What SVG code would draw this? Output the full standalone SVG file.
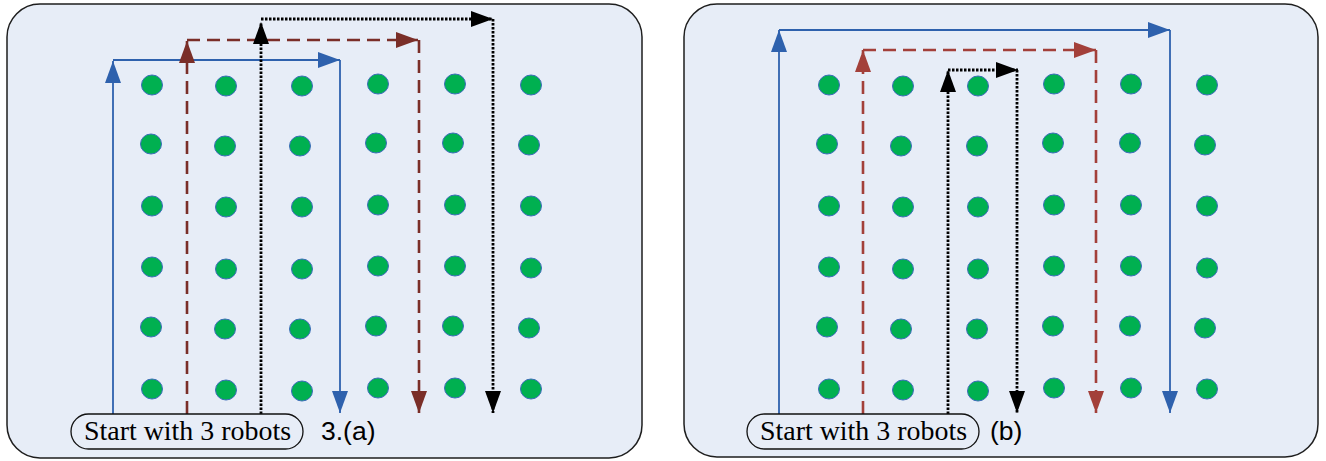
<svg xmlns="http://www.w3.org/2000/svg" xmlns:xlink="http://www.w3.org/1999/xlink" width="1326" height="461" viewBox="0 0 1326 461">
<style>
.panel{fill:#e7edf7;stroke:#1e1e1e;stroke-width:1.5}
.dot{fill:#00b050;stroke:#3a6cb8;stroke-width:1}
.blue{fill:none;stroke:#2e61ad;stroke-width:1.8}
.redA{fill:none;stroke:#7a2e28;stroke-width:2.6;stroke-dasharray:13,7}
.redB{fill:none;stroke:#a3403a;stroke-width:2.6;stroke-dasharray:13,7}
.blk{fill:none;stroke:#000;stroke-width:2.8;stroke-dasharray:2.5,1.5}
.pill{fill:#e7edf7;stroke:#111;stroke-width:1.3}
.lbl{font-family:"Liberation Serif",serif;font-size:27px;fill:#000}
.cap{font-family:"Liberation Sans",Arial,sans-serif;font-size:26.5px;fill:#000}
</style>
<defs>
<marker id="mBlue" markerUnits="userSpaceOnUse" markerWidth="23" markerHeight="16" refX="22" refY="8" orient="auto"><path d="M0,0 L22,8 L0,16 z" fill="#2e61ad"/></marker>
<marker id="mRedA" markerUnits="userSpaceOnUse" markerWidth="23" markerHeight="16" refX="22" refY="8" orient="auto"><path d="M0,0 L22,8 L0,16 z" fill="#7a2e28"/></marker>
<marker id="mRedB" markerUnits="userSpaceOnUse" markerWidth="23" markerHeight="16" refX="22" refY="8" orient="auto"><path d="M0,0 L22,8 L0,16 z" fill="#a3403a"/></marker>
<marker id="mBlk" markerUnits="userSpaceOnUse" markerWidth="23" markerHeight="16" refX="22" refY="8" orient="auto"><path d="M0,0 L22,8 L0,16 z" fill="#000"/></marker>
</defs>

<g id="panelA">
<rect class="panel" x="7" y="4" width="635" height="454" rx="33" ry="33"/>
</g>
<g id="panelB">
<rect class="panel" x="684" y="4" width="634" height="453" rx="33" ry="33"/>
</g>

<g id="dotsA">
<ellipse class="dot" cx="152" cy="85" rx="10.5" ry="10"/><ellipse class="dot" cx="226" cy="86" rx="10.5" ry="10"/><ellipse class="dot" cx="302" cy="86" rx="10.5" ry="10"/><ellipse class="dot" cx="378" cy="84" rx="10.5" ry="10"/><ellipse class="dot" cx="455" cy="84" rx="10.5" ry="10"/><ellipse class="dot" cx="531" cy="85" rx="10.5" ry="10"/>
<ellipse class="dot" cx="151" cy="144" rx="10.5" ry="10"/><ellipse class="dot" cx="225" cy="146" rx="10.5" ry="10"/><ellipse class="dot" cx="300" cy="146" rx="10.5" ry="10"/><ellipse class="dot" cx="376" cy="143" rx="10.5" ry="10"/><ellipse class="dot" cx="453" cy="143" rx="10.5" ry="10"/><ellipse class="dot" cx="529" cy="145" rx="10.5" ry="10"/>
<ellipse class="dot" cx="152" cy="206" rx="10.5" ry="10"/><ellipse class="dot" cx="226" cy="207" rx="10.5" ry="10"/><ellipse class="dot" cx="302" cy="207" rx="10.5" ry="10"/><ellipse class="dot" cx="378" cy="205" rx="10.5" ry="10"/><ellipse class="dot" cx="455" cy="205" rx="10.5" ry="10"/><ellipse class="dot" cx="531" cy="206" rx="10.5" ry="10"/>
<ellipse class="dot" cx="152" cy="267" rx="10.5" ry="10"/><ellipse class="dot" cx="226" cy="269" rx="10.5" ry="10"/><ellipse class="dot" cx="302" cy="269" rx="10.5" ry="10"/><ellipse class="dot" cx="378" cy="266" rx="10.5" ry="10"/><ellipse class="dot" cx="455" cy="266" rx="10.5" ry="10"/><ellipse class="dot" cx="531" cy="268" rx="10.5" ry="10"/>
<ellipse class="dot" cx="151" cy="327" rx="10.5" ry="10"/><ellipse class="dot" cx="225" cy="329" rx="10.5" ry="10"/><ellipse class="dot" cx="300" cy="329" rx="10.5" ry="10"/><ellipse class="dot" cx="376" cy="326" rx="10.5" ry="10"/><ellipse class="dot" cx="453" cy="326" rx="10.5" ry="10"/><ellipse class="dot" cx="529" cy="328" rx="10.5" ry="10"/>
<ellipse class="dot" cx="152" cy="389" rx="10.5" ry="10"/><ellipse class="dot" cx="226" cy="390" rx="10.5" ry="10"/><ellipse class="dot" cx="302" cy="391" rx="10.5" ry="10"/><ellipse class="dot" cx="378" cy="388" rx="10.5" ry="10"/><ellipse class="dot" cx="455" cy="388" rx="10.5" ry="10"/><ellipse class="dot" cx="531" cy="389" rx="10.5" ry="10"/>
</g>
<g id="dotsB">
<ellipse class="dot" cx="829" cy="85" rx="10.5" ry="10"/><ellipse class="dot" cx="903" cy="86" rx="10.5" ry="10"/><ellipse class="dot" cx="978" cy="86" rx="10.5" ry="10"/><ellipse class="dot" cx="1054" cy="84" rx="10.5" ry="10"/><ellipse class="dot" cx="1131" cy="84" rx="10.5" ry="10"/><ellipse class="dot" cx="1207" cy="85" rx="10.5" ry="10"/>
<ellipse class="dot" cx="827" cy="144" rx="10.5" ry="10"/><ellipse class="dot" cx="901" cy="146" rx="10.5" ry="10"/><ellipse class="dot" cx="977" cy="146" rx="10.5" ry="10"/><ellipse class="dot" cx="1053" cy="143" rx="10.5" ry="10"/><ellipse class="dot" cx="1130" cy="143" rx="10.5" ry="10"/><ellipse class="dot" cx="1205" cy="145" rx="10.5" ry="10"/>
<ellipse class="dot" cx="829" cy="206" rx="10.5" ry="10"/><ellipse class="dot" cx="903" cy="207" rx="10.5" ry="10"/><ellipse class="dot" cx="978" cy="207" rx="10.5" ry="10"/><ellipse class="dot" cx="1054" cy="205" rx="10.5" ry="10"/><ellipse class="dot" cx="1131" cy="205" rx="10.5" ry="10"/><ellipse class="dot" cx="1207" cy="206" rx="10.5" ry="10"/>
<ellipse class="dot" cx="829" cy="267" rx="10.5" ry="10"/><ellipse class="dot" cx="903" cy="269" rx="10.5" ry="10"/><ellipse class="dot" cx="978" cy="269" rx="10.5" ry="10"/><ellipse class="dot" cx="1054" cy="266" rx="10.5" ry="10"/><ellipse class="dot" cx="1131" cy="266" rx="10.5" ry="10"/><ellipse class="dot" cx="1207" cy="268" rx="10.5" ry="10"/>
<ellipse class="dot" cx="827" cy="327" rx="10.5" ry="10"/><ellipse class="dot" cx="901" cy="329" rx="10.5" ry="10"/><ellipse class="dot" cx="977" cy="329" rx="10.5" ry="10"/><ellipse class="dot" cx="1053" cy="326" rx="10.5" ry="10"/><ellipse class="dot" cx="1130" cy="326" rx="10.5" ry="10"/><ellipse class="dot" cx="1205" cy="328" rx="10.5" ry="10"/>
<ellipse class="dot" cx="829" cy="389" rx="10.5" ry="10"/><ellipse class="dot" cx="903" cy="390" rx="10.5" ry="10"/><ellipse class="dot" cx="978" cy="391" rx="10.5" ry="10"/><ellipse class="dot" cx="1054" cy="388" rx="10.5" ry="10"/><ellipse class="dot" cx="1131" cy="388" rx="10.5" ry="10"/><ellipse class="dot" cx="1207" cy="389" rx="10.5" ry="10"/>
</g>

<g id="connectors">
<!-- panel a -->
<path class="blue" d="M113,414 V61" marker-end="url(#mBlue)"/>
<path class="blue" d="M113,60 H340" marker-end="url(#mBlue)"/>
<path class="blue" d="M340,60 V413" marker-end="url(#mBlue)"/>
<path class="redA" d="M187,414 V41" marker-end="url(#mRedA)"/>
<path class="redA" d="M187,40 H418" marker-end="url(#mRedA)"/>
<path class="redA" d="M419,40 V413" marker-end="url(#mRedA)"/>
<path class="blk" d="M261,414 V22" marker-end="url(#mBlk)"/>
<path class="blk" d="M261,19 H493" marker-end="url(#mBlk)"/>
<path class="blk" d="M493,19 V413" marker-end="url(#mBlk)"/>
<!-- panel b -->
<path class="blue" d="M779,414 V30" marker-end="url(#mBlue)"/>
<path class="blue" d="M779,30 H1170" marker-end="url(#mBlue)"/>
<path class="blue" d="M1170,30 V413" marker-end="url(#mBlue)"/>
<path class="redB" d="M863,414 V50" marker-end="url(#mRedB)"/>
<path class="redB" d="M863,50 H1096" marker-end="url(#mRedB)"/>
<path class="redB" d="M1096,50 V413" marker-end="url(#mRedB)"/>
<path class="blk" d="M948,414 V70" marker-end="url(#mBlk)"/>
<path class="blk" d="M948,70 H1018" marker-end="url(#mBlk)"/>
<path class="blk" d="M1017,70 V413" marker-end="url(#mBlk)"/>
</g>

<g id="startA">
<rect class="pill" x="71" y="414" width="232" height="35" rx="17.5" ry="17.5"/>
<text class="lbl" x="187.5" y="440" text-anchor="middle" textLength="207" lengthAdjust="spacingAndGlyphs">Start with 3 robots</text>
</g>
<g id="startB">
<rect class="pill" x="747" y="414" width="232" height="35" rx="17.5" ry="17.5"/>
<text class="lbl" x="863.5" y="440" text-anchor="middle" textLength="207" lengthAdjust="spacingAndGlyphs">Start with 3 robots</text>
</g>
<text class="cap" x="321" y="440">3.(a)</text>
<text class="cap" x="990" y="440">(b)</text>
</svg>
